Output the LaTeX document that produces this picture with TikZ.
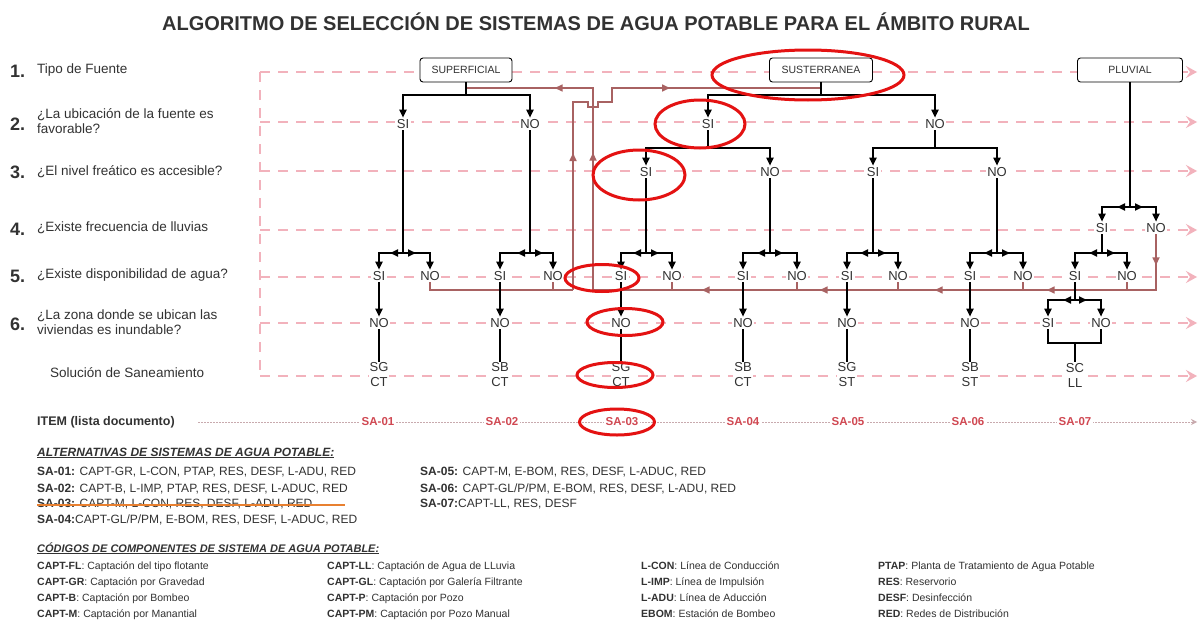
\documentclass[tikz,border=0pt]{standalone}
\usepackage{fontspec}
\setmainfont{Liberation Sans}
\usetikzlibrary{arrows.meta,decorations.markings,calc}
\definecolor{guide}{RGB}{242,178,188}
\definecolor{fb}{RGB}{168,98,98}
\definecolor{itemred}{RGB}{208,72,82}
\definecolor{hl}{RGB}{228,18,18}
\definecolor{strikeorange}{RGB}{232,128,48}
\definecolor{txt}{RGB}{50,50,50}
\definecolor{dotline}{RGB}{200,170,174}
\tikzset{
  fbtip/.tip={Triangle[length=8pt,width=7pt]},
  guideline/.style={draw=guide, line width=1.4pt, dash pattern=on 10pt off 8pt},
  guidearrow/.style={guideline, -{Stealth[length=11pt,width=12pt,inset=4pt]}},
  treeline/.style={draw=black, line width=1.8pt},
  treearrow/.style={treeline, -{Triangle[length=8pt,width=7pt]}},
  fbline/.style={draw=fb, line width=1.6pt},
  fbmarks/.style={postaction={decorate, decoration={markings, #1}}},
  lbl/.style={font=\fontsize{13}{13}\selectfont, text=txt, inner sep=1.5pt, fill=white},
  srcbox/.style={draw=black, line width=0.9pt, rounded corners=3pt, minimum height=24pt, font=\fontsize{10.5}{10.5}\selectfont, text=txt, fill=white, inner sep=2pt},
  sol/.style={font=\fontsize{13}{15}\selectfont, text=txt, align=center, inner sep=1pt, fill=white},
  rowlbl/.style={font=\fontsize{13.5}{15}\selectfont, text=txt, anchor=west, align=left, inner sep=0pt},
  rownum/.style={font=\bfseries\fontsize{18}{18}\selectfont, text=txt, anchor=west, inner sep=0pt},
  itemlbl/.style={font=\bfseries\fontsize{11.5}{11.5}\selectfont, text=itemred, fill=white, inner sep=2pt},
  hlring/.style={draw=hl, line width=3pt},
  alt/.style={font=\fontsize{12}{12}\selectfont, text=txt, anchor=base west, inner sep=0pt},
  code/.style={font=\fontsize{10.5}{10.5}\selectfont, text=txt, anchor=base west, inner sep=0pt},
}
\begin{document}
\begin{tikzpicture}[x=1pt,y=-1pt]
\useasboundingbox (0,0) rectangle (1202,621);
\fill[white] (0,0) rectangle (1202,621);

% title
\node[font=\bfseries\fontsize{20}{20}\selectfont, text=txt] (title) at (596,22)
  {ALGORITMO DE SELECCIÓN DE SISTEMAS DE AGUA POTABLE PARA EL ÁMBITO RURAL};

% row questions
\node[rownum] (rn1) at (10,71) {1.};
\node[rowlbl] (q1) at (37,70) {Tipo de Fuente};
\node[rownum] (rn2) at (10,124) {2.};
\node[rowlbl] (q2) at (37,121) {¿La ubicación de la fuente es\\favorable?};
\node[rownum] (rn3) at (10,172) {3.};
\node[rowlbl] (q3) at (37,172) {¿El nivel freático es accesible?};
\node[rownum] (rn4) at (10,229) {4.};
\node[rowlbl] (q4) at (37,228) {¿Existe frecuencia de lluvias};
\node[rownum] (rn5) at (10,276) {5.};
\node[rowlbl] (q5) at (37,275) {¿Existe disponibilidad de agua?};
\node[rownum] (rn6) at (10,324) {6.};
\node[rowlbl] (q6) at (37,322) {¿La zona donde se ubican las\\viviendas es inundable?};
\node[rowlbl] (q7) at (50,373) {Solución de Saneamiento};
\node[rowlbl, font=\bfseries\fontsize{12.5}{12.5}\selectfont] (q8) at (37,422) {ITEM (lista documento)};

% guide lines
\coordinate (g1s) at (260,72);  \coordinate (g1e) at (1197,72);
\coordinate (g2s) at (260,122); \coordinate (g2e) at (1197,122);
\coordinate (g3s) at (260,171); \coordinate (g3e) at (1197,171);
\coordinate (g4s) at (260,230); \coordinate (g4e) at (1197,230);
\coordinate (g5s) at (260,277); \coordinate (g5e) at (1197,277);
\coordinate (g6s) at (260,323); \coordinate (g6e) at (1197,323);
\coordinate (g7s) at (260,376); \coordinate (g7e) at (1197,376);
\draw[guideline] (g1s) -- (g7s);
\foreach \k in {1,...,7} {\draw[guidearrow, guide] (g\k s) -- (g\k e);}
\coordinate (its) at (198,422); \coordinate (ite) at (1197,422);
\draw[draw=dotline, line width=0.7pt, dash pattern=on 1.5pt off 1.5pt, -{Stealth[length=6pt,width=6pt,inset=2pt]}] (its) -- (ite);

% source boxes
\node[srcbox, minimum width=92pt] (sup) at (466,70) {SUPERFICIAL};
\node[srcbox, minimum width=103pt] (sub) at (821,70) {SUSTERRANEA};
\node[srcbox, minimum width=105pt] (plu) at (1130,70) {PLUVIAL};

% level 2
\node[lbl] (a2s) at (403,124) {SI};
\node[lbl] (a2n) at (530,124) {NO};
\node[lbl] (b2s) at (708,124) {SI};
\node[lbl] (b2n) at (935,124) {NO};
% level 3
\node[lbl] (b3s1) at (646,172) {SI};
\node[lbl] (b3n1) at (770,172) {NO};
\node[lbl] (b3s2) at (873,172) {SI};
\node[lbl] (b3n2) at (997,172) {NO};
% level 4
\node[lbl] (p4s) at (1102,228) {SI};
\node[lbl] (p4n) at (1156,228) {NO};
% level 5
\node[lbl] (k1s) at (379,276) {SI};  \node[lbl] (k1n) at (430,276) {NO};
\node[lbl] (k2s) at (500,276) {SI};  \node[lbl] (k2n) at (553,276) {NO};
\node[lbl] (k3s) at (621,276) {SI};  \node[lbl] (k3n) at (672,276) {NO};
\node[lbl] (k4s) at (743,276) {SI};  \node[lbl] (k4n) at (797,276) {NO};
\node[lbl] (k5s) at (847,276) {SI};  \node[lbl] (k5n) at (898,276) {NO};
\node[lbl] (k6s) at (970,276) {SI};  \node[lbl] (k6n) at (1023,276) {NO};
\node[lbl] (k7s) at (1075,276) {SI}; \node[lbl] (k7n) at (1127,276) {NO};
% level 6
\node[lbl] (m1) at (379,323) {NO};
\node[lbl] (m2) at (500,323) {NO};
\node[lbl] (m3) at (621,323) {NO};
\node[lbl] (m4) at (743,323) {NO};
\node[lbl] (m5) at (847,323) {NO};
\node[lbl] (m6) at (970,323) {NO};
\node[lbl] (m7s) at (1048,323) {SI};
\node[lbl] (m7n) at (1101,323) {NO};
% solutions
\node[sol] (s1) at (379,375) {SG\\CT};
\node[sol] (s2) at (500,375) {SB\\CT};
\node[sol] (s3) at (621,375) {SG\\CT};
\node[sol] (s4) at (743,375) {SB\\CT};
\node[sol] (s5) at (847,375) {SG\\ST};
\node[sol] (s6) at (970,375) {SB\\ST};
\node[sol] (s7) at (1075,375) {SC\\LL};
% items
\node[itemlbl] (i1) at (378,422) {SA-01};
\node[itemlbl] (i2) at (502,422) {SA-02};
\node[itemlbl] (i3) at (622,422) {SA-03};
\node[itemlbl] (i4) at (743,422) {SA-04};
\node[itemlbl] (i5) at (848,422) {SA-05};
\node[itemlbl] (i6) at (968,422) {SA-06};
\node[itemlbl] (i7) at (1075,422) {SA-07};

% feedback (red) lines
\coordinate (fbY) at (0,290);
\coordinate (fbB1) at (573,290);
\coordinate (fbB2) at (573,102);
\coordinate (fbB3) at (588,102);
\coordinate (fbB4) at (588,107);
\coordinate (fbB5) at (598,107);
\coordinate (fbB6) at (598,102);
\coordinate (fbB7) at (612,102);
\coordinate (fbB8) at (612,88);
\coordinate (fbB9) at (sub.south |- fbB8);
\draw[fbline] (k1n.south) |- (fbB1);
\draw[fbline] (k2n.south) -- (k2n.south |- fbY);
\draw[fbline, fbmarks={mark=at position 137pt with {\arrow[fb]{fbtip}}, mark=at position 309pt with {\arrow[fb]{fbtip}}}]
  (fbB1) -- (fbB2) -- (fbB3) -- (fbB4) -- (fbB5) -- (fbB6) -- (fbB7) -- (fbB8) -- (fbB9);
\coordinate (fbA1) at (p4n.south |- fbY);
\coordinate (fbA2) at (593,290);
\coordinate (fbA3) at (593,88);
\coordinate (fbA4) at (sup.south |- fbA3);
\draw[fbline, fbmarks={mark=at position 31pt with {\arrow[fb]{fbtip}}, mark=at position 165pt with {\arrow[fb]{fbtip}}, mark=at position 277pt with {\arrow[fb]{fbtip}}, mark=at position 392pt with {\arrow[fb]{fbtip}}, mark=at position 510pt with {\arrow[fb]{fbtip}}, mark=at position 756pt with {\arrow[fb]{fbtip}}, mark=at position 859pt with {\arrow[fb]{fbtip}}}]
  (p4n.south) -- (fbA1) -- (fbA2) -- (fbA3) -- (fbA4);
\foreach \n in {k3n,k4n,k5n,k6n,k7n} {\draw[fbline] (\n.south) -- (\n.south |- fbY);}

% black tree
\coordinate (supj) at (466,95);
\coordinate (subj) at (821,95);
\coordinate (pluj) at (1130,207);
\coordinate (b2sj) at (708,148);
\coordinate (b2nj) at (935,148);
\coordinate (lv5) at (0,253);
\coordinate (lv6) at (0,300);
\draw[treeline] (sup.south) -- (supj);
\draw[treearrow] (supj) -| (a2s.north);
\draw[treearrow] (supj) -| (a2n.north);
\draw[treeline] (sub.south) -- (subj);
\draw[treearrow] (subj) -| (b2s.north);
\draw[treearrow] (subj) -| (b2n.north);
\draw[treeline] (b2s.south) -- (b2sj);
\draw[treearrow] (b2sj) -| (b3s1.north);
\draw[treearrow] (b2sj) -| (b3n1.north);
\draw[treeline] (b2n.south) -- (b2nj);
\draw[treearrow] (b2nj) -| (b3s2.north);
\draw[treearrow] (b2nj) -| (b3n2.north);
\draw[treeline] (plu.south) -- (pluj);
\draw[treearrow] (pluj) -| (p4s.north);
\draw[treearrow] (pluj) -| (p4n.north);
\draw[treearrow] (pluj) -- ++(-13,0);
\draw[treearrow] (pluj) -- ++(13,0);
\foreach \p/\j/\s/\n in {a2s/j1/k1s/k1n, a2n/j2/k2s/k2n, b3s1/j3/k3s/k3n, b3n1/j4/k4s/k4n, b3s2/j5/k5s/k5n, b3n2/j6/k6s/k6n, p4s/j7/k7s/k7n} {
  \coordinate (\j) at (\p.south |- lv5);
  \draw[treeline] (\p.south) -- (\j);
  \draw[treearrow] (\j) -| (\s.north);
  \draw[treearrow] (\j) -| (\n.north);
  \draw[treearrow] (\j) -- ++(-13,0);
  \draw[treearrow] (\j) -- ++(13,0);
}
\foreach \a/\b/\c in {k1s/m1/s1, k2s/m2/s2, k3s/m3/s3, k4s/m4/s4, k5s/m5/s5, k6s/m6/s6} {
  \draw[treearrow] (\a.south) -- (\b.north);
  \draw[treeline] (\b.south) -- (\c.north);
}
\coordinate (j8) at (k7s.south |- lv6);
\draw[treeline] (k7s.south) -- (j8);
\draw[treearrow] (j8) -| (m7s.north);
\draw[treearrow] (j8) -| (m7n.north);
\draw[treearrow] (j8) -- ++(-12,0);
\draw[treearrow] (j8) -- ++(12,0);
\coordinate (brc) at (1075,343);
\draw[treeline] (m7s.south) |- (brc) -| (m7n.south);
\draw[treeline] (brc) -- (s7.north);

% alternatives
\node[alt, font=\bfseries\itshape\fontsize{12}{12}\selectfont] (althead) at (37,456) {\underline{ALTERNATIVAS DE SISTEMAS DE AGUA POTABLE:}};
\node[alt] (alt1) at (37,475.5) {\textbf{SA-01:} CAPT-GR, L-CON, PTAP, RES, DESF, L-ADU, RED};
\node[alt] (alt2) at (37,492.5) {\textbf{SA-02:} CAPT-B, L-IMP, PTAP, RES, DESF, L-ADUC, RED};
\node[alt] (alt3) at (37,507.5) {\textbf{SA-03:} CAPT-M, L-CON, RES, DESF, L-ADU, RED};
\node[alt] (alt4) at (37,523.5) {\textbf{SA-04:}CAPT-GL/P/PM, E-BOM, RES, DESF, L-ADUC, RED};
\node[alt] (alt5) at (420,475.5) {\textbf{SA-05:} CAPT-M, E-BOM, RES, DESF, L-ADUC, RED};
\node[alt] (alt6) at (420,492.5) {\textbf{SA-06:} CAPT-GL/P/PM, E-BOM, RES, DESF, L-ADU, RED};
\node[alt] (alt7) at (420,507.5) {\textbf{SA-07:}CAPT-LL, RES, DESF};
\coordinate (stA) at (37,505);
\coordinate (stB) at (345,505);
\draw[strikeorange, line width=2pt] (stA) -- (stB);

% codes
\node[code, font=\bfseries\itshape\fontsize{11}{11}\selectfont] (codehead) at (37,552) {\underline{CÓDIGOS DE COMPONENTES DE SISTEMA DE AGUA POTABLE:}};
\node[code] (c11) at (37,569) {\textbf{CAPT-FL}: Captación del tipo flotante};
\node[code] (c12) at (37,585) {\textbf{CAPT-GR}: Captación por Gravedad};
\node[code] (c13) at (37,601) {\textbf{CAPT-B}: Captación por Bombeo};
\node[code] (c14) at (37,617) {\textbf{CAPT-M}: Captación por Manantial};
\node[code] (c21) at (327,569) {\textbf{CAPT-LL}: Captación de Agua de LLuvia};
\node[code] (c22) at (327,585) {\textbf{CAPT-GL}: Captación por Galería Filtrante};
\node[code] (c23) at (327,601) {\textbf{CAPT-P}: Captación por Pozo};
\node[code] (c24) at (327,617) {\textbf{CAPT-PM}: Captación por Pozo Manual};
\node[code] (c31) at (641,569) {\textbf{L-CON}: Línea de Conducción};
\node[code] (c32) at (641,585) {\textbf{L-IMP}: Línea de Impulsión};
\node[code] (c33) at (641,601) {\textbf{L-ADU}: Línea de Aducción};
\node[code] (c34) at (641,617) {\textbf{EBOM}: Estación de Bombeo};
\node[code] (c41) at (878,569) {\textbf{PTAP}: Planta de Tratamiento de Agua Potable};
\node[code] (c42) at (878,585) {\textbf{RES}: Reservorio};
\node[code] (c43) at (878,601) {\textbf{DESF}: Desinfección};
\node[code] (c44) at (878,617) {\textbf{RED}: Redes de Distribución};

% highlight rings
\draw[hlring] (808,75) ellipse [x radius=96, y radius=25];
\draw[hlring] (700,124) ellipse [x radius=45, y radius=24];
\draw[hlring] (639,175) ellipse [x radius=46, y radius=25];
\draw[hlring] (602,278) ellipse [x radius=37, y radius=13.5];
\draw[hlring] (625,322) ellipse [x radius=38, y radius=13.5];
\draw[hlring] (615,375) ellipse [x radius=38, y radius=12.5];
\draw[hlring] (617,422) ellipse [x radius=37.5, y radius=13];
\end{tikzpicture}
\end{document}
